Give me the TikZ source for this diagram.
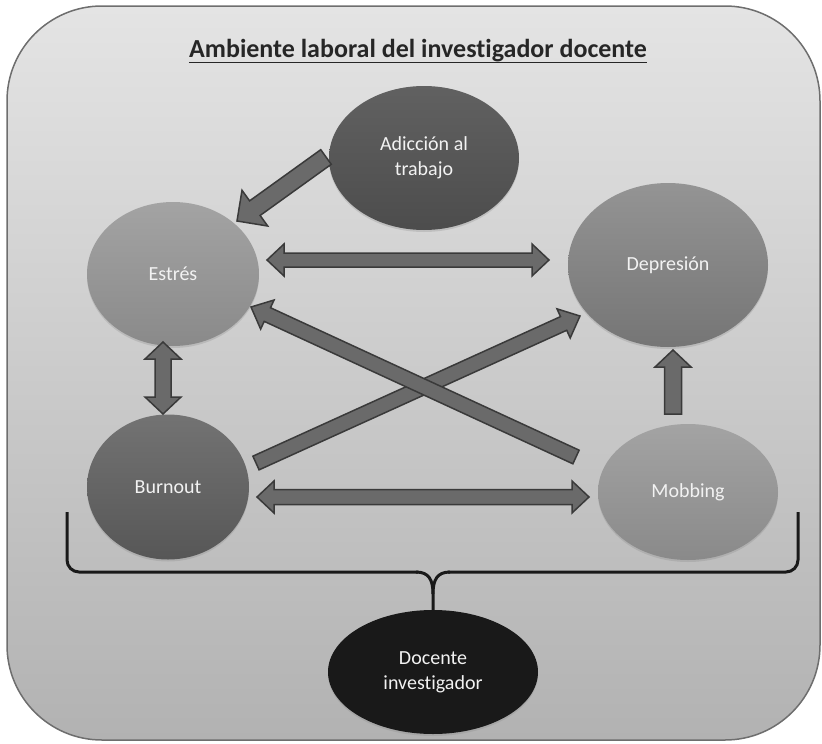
\documentclass[tikz,border=0pt]{standalone}
\usepackage{fontspec}
\setmainfont{Carlito}[Ligatures=NoCommon]
\usetikzlibrary{shapes.geometric,calc,shadows}
\definecolor{bgtop}{HTML}{E4E4E4}
\definecolor{bgbot}{HTML}{B2B2B2}
\definecolor{frame}{HTML}{6E6E6E}
\definecolor{arrfill}{HTML}{6A6A6A}
\definecolor{arrdraw}{HTML}{3A3A3A}
\definecolor{txt}{HTML}{F2F2F2}
\newcommand\blkS[5]{%
  \path ($(#5)!#3!(#4)$) coordinate (bh);
  \draw[blk] ($(#4)!#1!90:(#5)$) -- ($(bh)!#1!90:(#5)$) -- ($(bh)!#2!90:(#5)$) -- (#5) -- ($(bh)!#2!-90:(#5)$) -- ($(bh)!#1!-90:(#5)$) -- ($(#4)!#1!-90:(#5)$) -- cycle;
}
\newcommand\blkD[5]{%
  \path ($(#4)!#3!(#5)$) coordinate (bha);
  \path ($(#5)!#3!(#4)$) coordinate (bhb);
  \draw[blk] (#4) -- ($(bha)!#2!90:(#5)$) -- ($(bha)!#1!90:(#5)$) -- ($(bhb)!#1!90:(#5)$) -- ($(bhb)!#2!90:(#5)$) -- (#5) -- ($(bhb)!#2!-90:(#5)$) -- ($(bhb)!#1!-90:(#5)$) -- ($(bha)!#1!-90:(#5)$) -- ($(bha)!#2!-90:(#5)$) -- cycle;
}
\begin{document}
\begin{tikzpicture}[x=1pt,y=-1pt,
  blk/.style={fill=arrfill,draw=arrdraw,line width=1.5pt,line join=miter},
  oval/.style={ellipse,inner sep=0pt,text=txt,align=center,
    font=\fontsize{20}{25}\selectfont,
    drop shadow={shadow xshift=0pt,shadow yshift=-2pt,opacity=0.25}},
  brace/.style={line width=3pt,draw=black!90}]
\useasboundingbox (0,0) rectangle (822,744);
\shade[rounded corners=95pt,top color=bgtop,bottom color=bgbot] (7,6) rectangle (820,740);
\draw[rounded corners=95pt,draw=frame,line width=1.5pt] (7,6) rectangle (820,740);

\node[inner sep=0pt,font=\fontsize{26}{31}\selectfont\bfseries,text=black!85] (title) at (418,51) {Ambiente laboral del investigador docente};
\draw[line width=1.8pt,black!85] ([yshift=-4.5pt]title.base west) -- ([yshift=-4.5pt]title.base east);

\node[oval,minimum width=190pt,minimum height=144pt,top color=black!62,bottom color=black!70] (adic) at (424,158) {Adicción al\\trabajo};
\node[oval,minimum width=172pt,minimum height=144pt,top color=black!36,bottom color=black!46] (estres) at (173,274) {Estrés};
\node[oval,minimum width=200pt,minimum height=164pt,top color=black!42,bottom color=black!54] (depre) at (668,265) {Depresión};
\node[oval,minimum width=162pt,minimum height=145pt,top color=black!55,bottom color=black!66] (burn) at (168,487) {Burnout};
\node[oval,minimum width=180pt,minimum height=136pt,top color=black!36,bottom color=black!46] (mobb) at (688,492) {Mobbing};
\node[oval,minimum width=210pt,minimum height=124pt,fill=black!90] (doc) at (433,672) {Docente\\investigador};

% arrow end points
\coordinate (a1t) at (326,157); \coordinate (a1h) at (237,221);
\coordinate (a2a) at (267,260); \coordinate (a2b) at (549,260);
\coordinate (a3t) at (256,463); \coordinate (a3h) at (580,316);
\coordinate (a4t) at (576,457); \coordinate (a4h) at (251,307);
\coordinate (a5a) at (257,497); \coordinate (a5b) at (589,497);
\coordinate (a6a) at (163,342); \coordinate (a6b) at (163,414);
\coordinate (a7t) at (673,414); \coordinate (a7h) at (673,350);

\blkS{9pt}{22pt}{22pt}{a1t}{a1h}
\blkD{7pt}{16pt}{17pt}{a2a}{a2b}
\blkS{7.5pt}{16pt}{18pt}{a3t}{a3h}
\blkS{7.5pt}{16pt}{18pt}{a4t}{a4h}
\blkD{7.5pt}{16pt}{17pt}{a5a}{a5b}
\blkD{8pt}{18pt}{17pt}{a6a}{a6b}
\blkS{8.5pt}{18pt}{17pt}{a7t}{a7h}

% brace
\coordinate (bl) at (67,512); \coordinate (br) at (798,512);
\draw[brace,rounded corners=12pt] (bl) -- (67,572) -- (418,572);
\draw[brace,rounded corners=12pt] (448,572) -- (798,572) -- (br);
\draw[brace] (416,572) .. controls (429,572) and (433,580) .. (433,594);
\draw[brace] (450,572) .. controls (437,572) and (433,580) .. (433,594) -- (doc.north);
\end{tikzpicture}
\end{document}
